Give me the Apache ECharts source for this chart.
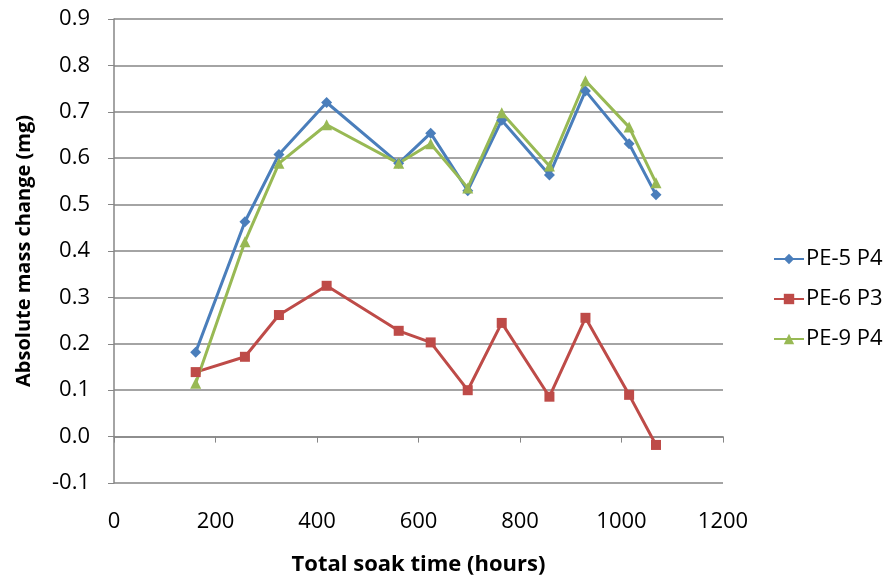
<!DOCTYPE html>
<html><head><meta charset="utf-8">
<script src="https://cdn.jsdelivr.net/npm/echarts@6/dist/echarts.min.js"></script>
<style>html,body{margin:0;padding:0;background:#fff}#c{width:884px;height:586px}</style>
</head><body><div id="c"></div>
<script>
const soakHours = [161, 258, 325, 419, 561, 624, 697, 764, 858, 929, 1015, 1068];
const pe5P4 = [0.182, 0.463, 0.608, 0.720, 0.589, 0.654, 0.530, 0.682, 0.564, 0.745, 0.631, 0.521];
const pe6P3 = [0.139, 0.172, 0.262, 0.325, 0.228, 0.203, 0.100, 0.245, 0.086, 0.256, 0.090, -0.018];
const pe9P4 = [0.115, 0.420, 0.589, 0.672, 0.589, 0.631, 0.536, 0.698, 0.583, 0.767, 0.667, 0.547];
const seriesNames = ['PE-5 P4', 'PE-6 P3', 'PE-9 P4'];
const xTitle = 'Total soak time (hours)';
const yTitle = 'Absolute mass change (mg)';

const pair = (xs, ys) => xs.map((x, i) => [x, ys[i]]);
const font = 'Open Sans, Liberation Sans, sans-serif';
const chart = echarts.init(document.getElementById('c'), null, {renderer: 'canvas'});
const mk = (name, data, color, symbol, size) => ({
  name, type: 'line', data, symbol, symbolSize: size,
  lineStyle: {color, width: 3}, itemStyle: {color}, animation: false
});
chart.setOption({
  animation: false,
  grid: {left: 114, right: 161, top: 19, bottom: 103, containLabel: false},
  xAxis: {
    type: 'value', min: 0, max: 1200, interval: 200,
    name: xTitle, nameLocation: 'middle', nameGap: 71,
    nameTextStyle: {fontFamily: font, fontWeight: 'bold', fontSize: 22, color: '#000'},
    axisLine: {show: true, lineStyle: {color: '#868686', width: 1.5}},
    axisTick: {show: true, length: 6, lineStyle: {color: '#868686'}},
    axisLabel: {fontFamily: font, fontSize: 22, color: '#000', margin: 28,
      formatter: v => String(v)},
    splitLine: {show: false}
  },
  yAxis: {
    type: 'value', min: -0.1, max: 0.9, interval: 0.1,
    name: yTitle, nameLocation: 'middle', nameGap: 80,
    nameTextStyle: {fontFamily: font, fontWeight: 'bold', fontSize: 20, color: '#000'},
    axisLine: {show: true, lineStyle: {color: '#868686', width: 1.5}},
    axisTick: {show: true, length: 6, lineStyle: {color: '#868686'}},
    axisLabel: {fontFamily: font, fontSize: 22, color: '#000', margin: 24,
      formatter: v => v.toFixed(1)},
    splitLine: {show: true, lineStyle: {color: '#868686', width: 1.5}}
  },
  legend: {
    orient: 'vertical', left: 768, top: 243, itemGap: 18,
    itemWidth: 30, itemHeight: 13,
    textStyle: {fontFamily: font, fontSize: 22, color: '#000', padding: [0, 0, 0, -3]},
    data: seriesNames
  },
  series: [
    mk(seriesNames[0], pair(soakHours, pe5P4), '#4A7EBB', 'diamond', 11),
    mk(seriesNames[1], pair(soakHours, pe6P3), '#BE4B48', 'rect', 10),
    mk(seriesNames[2], pair(soakHours, pe9P4), '#98B954', 'triangle', 11)
  ]
});
</script></body></html>
